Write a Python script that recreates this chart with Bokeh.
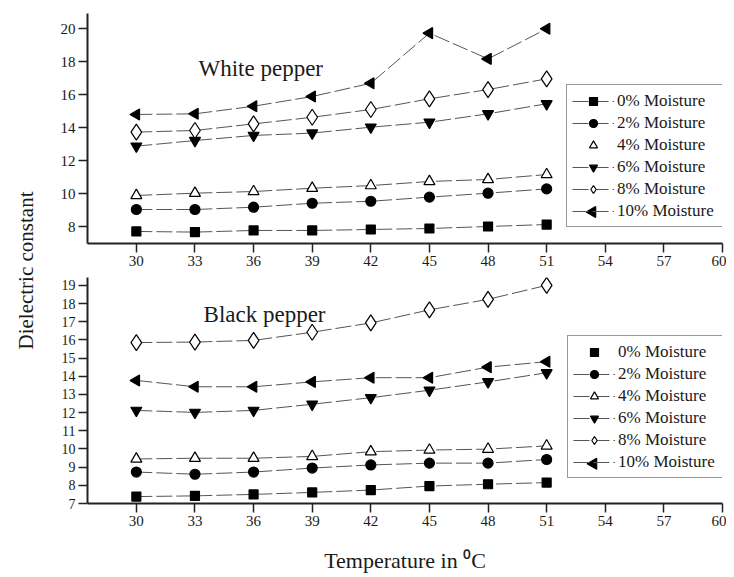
import math
from bokeh.plotting import figure
from bokeh.models import Range1d, FixedTicker, Legend, LegendItem, Label, ColumnDataSource
from bokeh.layouts import row, column
from bokeh.embed import file_html
from bokeh.resources import INLINE

# ---- data ----
temps = [30, 33, 36, 39, 42, 45, 48, 51]
x_ticks = [30, 33, 36, 39, 42, 45, 48, 51, 54, 57, 60]
top_y_ticks = [8, 10, 12, 14, 16, 18, 20]
bottom_y_ticks = [7, 8, 9, 10, 11, 12, 13, 14, 15, 16, 17, 18, 19]
series_labels = ["0% Moisture", "2% Moisture", "4% Moisture",
                 "6% Moisture", "8% Moisture", "10% Moisture"]

white_0 = [7.70, 7.66, 7.76, 7.76, 7.82, 7.88, 8.00, 8.12]
white_2 = [9.03, 9.03, 9.17, 9.41, 9.53, 9.78, 10.02, 10.28]
white_4 = [9.88, 10.02, 10.12, 10.32, 10.48, 10.73, 10.85, 11.15]
white_6 = [12.87, 13.21, 13.52, 13.66, 14.02, 14.32, 14.83, 15.44]
white_8 = [13.72, 13.82, 14.22, 14.62, 15.09, 15.74, 16.30, 16.95]
white_10 = [14.79, 14.83, 15.29, 15.88, 16.68, 19.72, 18.16, 19.98]

black_0 = [7.38, 7.42, 7.50, 7.61, 7.74, 7.96, 8.06, 8.15]
black_2 = [8.73, 8.61, 8.73, 8.95, 9.12, 9.22, 9.22, 9.42]
black_4 = [9.45, 9.49, 9.49, 9.59, 9.85, 9.94, 9.99, 10.17]
black_6 = [12.12, 12.01, 12.12, 12.46, 12.82, 13.23, 13.69, 14.19]
black_8 = [15.85, 15.88, 15.97, 16.42, 16.93, 17.65, 18.23, 19.00]
black_10 = [13.77, 13.42, 13.42, 13.69, 13.92, 13.92, 14.50, 14.80]

white_series = [white_0, white_2, white_4, white_6, white_8, white_10]
black_series = [black_0, black_2, black_4, black_6, black_8, black_10]

# ---- styles ----
FONT = "Liberation Serif"
TXT = "#1a1a1a"
markers = [
    dict(marker="square", size=9, fill_color="black", angle=0.0),
    dict(marker="circle", size=10, fill_color="black", angle=0.0),
    dict(marker="triangle", size=11, fill_color="white", angle=0.0),
    dict(marker="inverted_triangle", size=11, fill_color="black", angle=0.0),
    dict(marker="diamond", size=16, fill_color="white", angle=0.0),
    dict(marker="triangle", size=11, fill_color="black", angle=90.0),
]

LEG_PAD = 5
LEG_GLYPH_W = 42
LEG_ROW_H = 21
BORDER_L = 39
BORDER_R = 4


def style_axes(p, yticks, ytick_font):
    for ax in (p.xaxis[0], p.yaxis[0]):
        ax.axis_line_width = 2
        ax.axis_line_color = "#222"
        ax.major_tick_line_width = 1.5
        ax.major_tick_line_color = "#222"
        ax.major_tick_in = 0
        ax.major_tick_out = 9
        ax.minor_tick_line_color = None
        ax.major_label_text_font = FONT
        ax.major_label_text_color = TXT
        ax.major_label_standoff = 3
    p.xaxis[0].ticker = FixedTicker(ticks=x_ticks)
    p.yaxis[0].ticker = FixedTicker(ticks=yticks)
    p.xaxis[0].major_label_text_font_size = "15px"
    p.yaxis[0].major_label_text_font_size = ytick_font
    p.xgrid.visible = False
    p.ygrid.visible = False
    p.outline_line_color = None


def draw_panel(p, series, marker_only, legend_loc, title, title_xy, frame_h):
    items = []
    for i, ys in enumerate(series):
        m = markers[i]
        src = ColumnDataSource(dict(x=temps, y=ys, ang=[m["angle"]] * len(temps)))
        ln = p.line("x", "y", source=src, line_color="#555", line_width=1,
                    line_dash="16 4")
        sc = p.scatter("x", "y", source=src, marker=m["marker"], size=m["size"],
                       fill_color=m["fill_color"], line_color="black",
                       line_width=1.2, angle="ang", angle_units="deg")
        if i == marker_only:
            rends = [sc]
        elif m["angle"] != 0.0:
            rends = [ln]  # rotated swatch marker is added below (legend ignores angle)
        else:
            rends = [ln, sc]
        items.append(LegendItem(label=series_labels[i], renderers=rends))
    leg = Legend(items=items, location=legend_loc)
    leg.label_text_font = FONT
    leg.label_text_font_size = "17px"
    leg.label_text_color = TXT
    leg.glyph_width = LEG_GLYPH_W
    leg.glyph_height = 20
    leg.label_height = LEG_ROW_H
    leg.label_width = 100
    leg.label_standoff = 3
    leg.spacing = 1
    leg.padding = LEG_PAD
    leg.margin = 0
    leg.border_line_color = "#333"
    leg.border_line_width = 1.5
    leg.background_fill_alpha = 0.0
    p.add_layout(leg)
    # left-pointing swatch marker for the last legend row
    xr, yr = p.x_range, p.y_range
    frame_w = p.width - BORDER_L - BORDER_R
    gx = legend_loc[0] + LEG_PAD + LEG_GLYPH_W / 2
    gy = legend_loc[1] + LEG_PAD + LEG_ROW_H / 2
    m = markers[5]
    p.scatter([xr.start + gx * (xr.end - xr.start) / frame_w],
              [yr.start + gy * (yr.end - yr.start) / frame_h],
              marker=m["marker"], size=m["size"], fill_color=m["fill_color"],
              line_color="black", line_width=1.2,
              angle=[m["angle"]], angle_units="deg")
    p.add_layout(Label(x=title_xy[0], y=title_xy[1], text=title,
                       text_font=FONT, text_font_size="23px",
                       text_color=TXT, text_align="left",
                       text_baseline="alphabetic"))


# ---- top panel: white pepper ----
p1 = figure(width=678, height=273, x_range=Range1d(27.5, 60),
            y_range=Range1d(6.97, 20.91), toolbar_location=None,
            output_backend="svg", min_border_left=BORDER_L, min_border_right=BORDER_R,
            min_border_top=13, min_border_bottom=30)
style_axes(p1, top_y_ticks, "15px")
draw_panel(p1, white_series, 2, (479, 16), "White pepper", (33.18, 17.58), 230)

# ---- bottom panel: black pepper ----
p2 = figure(width=678, height=302, x_range=Range1d(27.5, 60),
            y_range=Range1d(7.0, 19.43), toolbar_location=None,
            output_backend="svg", min_border_left=BORDER_L, min_border_right=BORDER_R,
            min_border_top=4, min_border_bottom=68)
style_axes(p2, bottom_y_ticks, "14px")
p2.xaxis[0].axis_label = "Temperature in \u2070C"
p2.xaxis[0].axis_label_text_font = FONT
p2.xaxis[0].axis_label_text_font_size = "22px"
p2.xaxis[0].axis_label_text_font_style = "normal"
p2.xaxis[0].axis_label_text_color = TXT
p2.xaxis[0].axis_label_standoff = 19
draw_panel(p2, black_series, 0, (480, 25), "Black pepper", (33.44, 17.38), 230)

# ---- shared y label ----
p0 = figure(width=48, height=575, x_range=Range1d(0, 1), y_range=Range1d(0, 1),
            toolbar_location=None, output_backend="svg",
            x_axis_location=None, y_axis_location=None,
            min_border_left=0, min_border_right=0, min_border_top=0,
            min_border_bottom=0)
p0.xgrid.visible = False
p0.ygrid.visible = False
p0.outline_line_color = None
p0.add_layout(Label(x=25, y=575 - 270, x_units="screen", y_units="screen",
                    text="Dielectric constant", angle=math.pi / 2,
                    text_font=FONT, text_font_size="21px", text_color=TXT,
                    text_align="center", text_baseline="middle"))

layout = row(p0, column(p1, p2))
open("out.html", "w").write(file_html(layout, INLINE))
